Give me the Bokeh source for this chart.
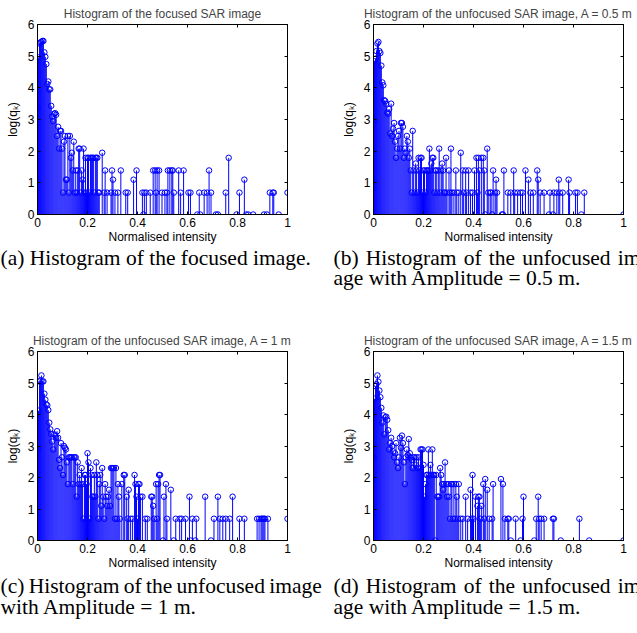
from bokeh.plotting import figure
from bokeh.layouts import column, row
from bokeh.models import (LinearAxis, Range1d, Label, FixedTicker, ColumnDataSource,
                          CustomLabelingPolicy)
from bokeh.embed import file_html
from bokeh.resources import INLINE

N_BINS = 255  # bins are indexed 0..255 over the normalised intensity 0..1

# ---- (a) focused image: bin index and log(q_k)
a_bin = [0, 1, 2, 3, 4, 5, 6, 7, 8, 9, 10, 11, 12, 13, 14, 15, 16, 17, 18, 19,
         20, 21, 22, 23, 24, 25, 26, 27, 28, 29, 30, 31, 32, 33, 34, 35, 36, 37, 38, 39,
         40, 41, 42, 43, 44, 45, 46, 47, 48, 49, 50, 51, 52, 53, 54, 55, 56, 57, 58, 59,
         60, 61, 62, 63, 66, 68, 69, 71, 75, 76, 77, 79, 82, 85, 90, 92, 98, 101, 107, 108,
         109, 111, 115, 118, 120, 121, 122, 124, 127, 130, 132, 133, 135, 137, 138, 139, 144, 146, 149, 154,
         156, 163, 165, 166, 170, 173, 175, 177, 182, 184, 192, 195, 203, 206, 211, 213, 215, 220, 231, 234,
         237, 240, 241, 246, 255]
a_logq = [3.37, 4.96, 5.40, 5.43, 5.45, 5.48, 5.48, 5.12, 4.98, 4.75, 4.12, 4.20, 3.95, 3.95, 3.43, 3.09, 2.95, 3.18, 3.20, 3.15,
          2.48, 2.77, 2.08, 2.64, 2.64, 2.08, 0.69, 2.30, 2.48, 1.10, 1.10, 2.48, 0.69, 2.48, 1.79, 1.95, 1.39, 2.30, 0.69, 1.39,
          0.69, 1.39, 2.08, 2.08, 0.69, 1.39, 1.10, 2.08, 0.69, 1.79, 0.69, 1.79, 1.79, 0.69, 1.79, 1.79, 1.79, 1.79, 0.69, 1.79,
          1.79, 1.79, 0.69, 0.69, 1.95, 0.69, 1.39, 0.69, 0.69, 1.39, 1.10, 0.69, 0.69, 1.39, 0.69, 0.69, 1.10, 1.39, 0.69, 0.00,
          0.69, 0.69, 0.69, 1.39, 1.39, 0.69, 1.39, 1.39, 0.69, 0.69, 0.69, 1.39, 1.39, 1.39, 1.39, 0.69, 1.39, 0.69, 1.39, 0.69,
          0.69, 0.00, 0.69, 0.00, 0.69, 0.69, 1.39, 0.69, 0.00, 0.00, 0.69, 1.79, 0.00, 0.69, 1.10, 0.00, 0.00, 0.00, 0.00, 0.00,
          0.69, 0.69, 0.69, 0.00, 0.69]

# ---- (b) unfocused image, A = 0.5 m
b_bin = [0, 1, 2, 3, 4, 5, 6, 7, 8, 9, 10, 11, 12, 13, 14, 15, 16, 17, 18, 19,
         20, 21, 22, 23, 24, 25, 26, 27, 28, 29, 30, 31, 32, 33, 34, 35, 36, 37, 38, 39,
         40, 41, 42, 43, 44, 45, 46, 47, 48, 49, 50, 51, 52, 53, 54, 55, 56, 57, 58, 59,
         60, 61, 62, 63, 64, 65, 66, 67, 68, 69, 70, 71, 72, 73, 74, 75, 77, 78, 79, 80,
         82, 84, 85, 87, 89, 91, 92, 94, 95, 97, 99, 101, 103, 105, 106, 107, 108, 110, 112, 113,
         114, 116, 117, 119, 120, 121, 122, 124, 125, 126, 131, 132, 133, 137, 140, 143, 144, 147, 150, 152,
         155, 158, 160, 163, 167, 168, 170, 174, 179, 180, 183, 184, 187, 189, 190, 193, 199, 200, 206, 208,
         212, 215, 255]
b_logq = [2.94, 4.84, 4.92, 5.16, 5.40, 5.45, 5.16, 5.10, 4.70, 4.17, 4.08, 3.61, 3.58, 3.50, 3.22, 3.18, 3.33, 2.56, 3.50, 2.48,
          2.71, 2.89, 2.30, 1.79, 2.08, 2.48, 2.64, 2.08, 2.89, 2.89, 2.77, 1.79, 2.08, 1.95, 2.48, 2.30, 1.79, 2.08, 1.39, 0.69,
          2.64, 1.39, 0.69, 1.61, 1.39, 0.69, 1.79, 1.39, 1.79, 1.79, 0.69, 1.39, 1.39, 0.69, 1.39, 1.39, 1.39, 2.08, 1.39, 1.61,
          1.79, 1.79, 0.69, 1.39, 1.39, 0.69, 1.39, 2.08, 0.69, 1.39, 1.61, 1.39, 0.69, 0.69, 1.79, 0.69, 1.39, 0.69, 2.08, 0.69,
          0.69, 1.39, 0.69, 0.69, 1.95, 1.39, 0.69, 1.39, 0.69, 1.39, 0.69, 0.69, 1.39, 1.79, 0.69, 1.79, 1.39, 1.79, 1.79, 1.39,
          0.00, 2.08, 0.69, 0.69, 0.69, 0.00, 1.39, 0.69, 1.10, 0.69, 0.00, 0.00, 1.39, 0.69, 0.69, 1.39, 0.69, 0.69, 0.69, 0.69,
          1.39, 1.10, 0.69, 0.69, 1.39, 1.10, 0.69, 0.69, 0.00, 0.69, 0.00, 0.69, 0.69, 1.10, 0.69, 0.69, 1.10, 0.69, 0.69, 0.69,
          0.00, 0.69, 0.00]

# ---- (c) unfocused image, A = 1 m
c_bin = [0, 1, 2, 3, 4, 5, 6, 7, 8, 9, 10, 11, 12, 13, 14, 15, 16, 17, 18, 19,
         20, 21, 22, 23, 24, 25, 26, 27, 28, 29, 30, 31, 32, 33, 34, 35, 36, 37, 38, 39,
         40, 41, 42, 43, 44, 45, 46, 47, 48, 49, 50, 51, 52, 53, 54, 55, 56, 57, 58, 59,
         60, 61, 62, 63, 64, 65, 66, 67, 68, 69, 70, 71, 72, 73, 74, 75, 76, 77, 78, 79,
         80, 81, 82, 83, 84, 86, 88, 89, 91, 92, 93, 95, 97, 99, 100, 101, 102, 103, 104, 105,
         107, 110, 112, 116, 117, 118, 119, 121, 122, 123, 124, 125, 128, 129, 131, 132, 136, 139, 141, 145,
         147, 151, 155, 156, 158, 161, 162, 171, 177, 180, 184, 186, 189, 192, 196, 199, 206, 211, 224, 226,
         228, 229, 230, 231, 232, 235, 255]
c_logq = [2.90, 4.12, 5.05, 5.08, 5.24, 5.05, 5.05, 4.66, 4.47, 4.32, 4.29, 4.14, 3.74, 3.53, 3.38, 3.14, 2.89, 3.37, 3.33, 3.26,
          3.47, 3.26, 2.56, 2.30, 3.09, 2.64, 2.08, 3.00, 2.94, 2.89, 2.48, 1.79, 2.64, 2.64, 2.64, 2.64, 1.79, 2.64, 2.64, 2.64,
          1.39, 2.48, 1.79, 2.08, 1.79, 2.30, 1.79, 0.69, 2.08, 2.08, 1.79, 2.77, 2.48, 0.69, 2.30, 2.08, 1.39, 1.39, 2.08, 1.39,
          2.48, 2.08, 0.69, 1.79, 2.08, 1.10, 2.30, 1.39, 0.69, 1.79, 1.39, 1.10, 1.39, 1.61, 1.10, 2.30, 2.30, 2.30, 2.30, 0.69,
          2.30, 0.69, 1.79, 1.39, 0.69, 1.79, 2.08, 2.08, 1.39, 0.69, 1.61, 0.69, 0.69, 2.08, 1.79, 1.39, 0.69, 1.79, 1.79, 1.39,
          1.39, 0.69, 0.69, 1.39, 1.39, 1.10, 0.69, 1.79, 0.69, 1.79, 2.08, 2.08, 0.00, 1.39, 1.79, 0.69, 1.61, 0.00, 0.69, 0.69,
          0.69, 0.69, 1.39, 0.00, 0.69, 0.00, 0.69, 1.39, 0.00, 0.69, 1.39, 0.69, 0.69, 0.69, 0.69, 1.39, 0.69, 0.69, 0.69, 0.69,
          0.69, 0.69, 0.69, 0.69, 0.69, 0.69, 0.69]

# ---- (d) unfocused image, A = 1.5 m
d_bin = [0, 1, 2, 3, 4, 5, 6, 7, 8, 9, 10, 11, 12, 13, 14, 15, 16, 17, 18, 19,
         20, 21, 22, 23, 24, 25, 26, 27, 28, 29, 30, 31, 32, 33, 34, 35, 36, 37, 38, 39,
         40, 41, 42, 43, 44, 45, 46, 47, 48, 49, 50, 51, 52, 53, 54, 55, 56, 57, 58, 59,
         60, 61, 62, 63, 64, 65, 66, 67, 68, 69, 70, 71, 72, 73, 74, 75, 76, 77, 78, 79,
         80, 81, 82, 83, 84, 85, 86, 87, 89, 91, 94, 96, 99, 100, 101, 102, 104, 106, 107, 108,
         109, 110, 112, 113, 114, 116, 118, 121, 122, 130, 132, 134, 137, 138, 140, 145, 150, 152, 153, 164,
         166, 168, 169, 171, 174, 183, 184, 191, 210, 220, 255]
d_logq = [2.64, 4.50, 4.90, 4.96, 5.24, 5.04, 4.76, 4.55, 4.21, 3.74, 3.97, 3.37, 3.91, 3.93, 3.83, 3.50, 2.89, 3.09, 3.26, 3.00,
          2.83, 2.64, 2.77, 3.09, 2.48, 2.30, 2.64, 3.26, 2.94, 3.33, 3.09, 2.48, 1.79, 2.64, 2.89, 2.71, 3.22, 2.77, 2.64, 2.56,
          2.30, 2.64, 2.64, 2.40, 2.64, 2.30, 2.64, 2.30, 2.89, 2.89, 2.89, 2.40, 1.39, 1.79, 2.08, 2.08, 2.89, 2.08, 2.40, 2.08,
          2.89, 2.08, 2.08, 0.00, 2.08, 1.39, 1.39, 1.39, 2.30, 2.08, 1.79, 1.61, 1.79, 2.48, 1.79, 1.39, 1.79, 1.39, 0.69, 1.79,
          1.79, 0.69, 1.79, 0.69, 1.79, 1.39, 0.69, 1.79, 0.69, 0.69, 1.39, 0.69, 1.61, 0.69, 2.08, 0.69, 1.39, 1.10, 1.39, 1.39,
          0.69, 1.10, 1.79, 0.69, 1.95, 1.61, 0.69, 0.69, 1.79, 1.95, 1.79, 0.69, 0.69, 0.69, 0.00, 0.69, 0.00, 0.69, 1.39, 0.00,
          0.69, 1.39, 0.69, 0.69, 0.69, 0.69, 0.69, 0.00, 0.69, 0.00, 0.00]

titles = ["Histogram of the focused SAR image",
          "Histogram of the unfocused SAR image, A = 0.5 m",
          "Histogram of the unfocused SAR image, A = 1 m",
          "Histogram of the unfocused SAR image, A = 1.5 m"]
x_ticks = [0, 0.2, 0.4, 0.6, 0.8, 1]
x_tick_labels = ["0", "0.2", "0.4", "0.6", "0.8", "1"]
y_ticks = [0, 1, 2, 3, 4, 5, 6]
x_label = "Normalised intensity"
y_label = "log(q\u2096)"

J = "\u2004"   # slightly widened inter-word space (justified caption lines)
T = "\u2009"   # slightly narrowed inter-word space
captions_top = ["(a) Histogram of the focused image.",
                J.join(["(b)", "Histogram", "of", "the", "unfocused", "im-"]),
                "age with Amplitude = 0.5 m."]
captions_bottom = [T.join(["(c)", "Histogram", "of", "the", "unfocused", "image"]),
                   "with Amplitude = 1 m.",
                   J.join(["(d)", "Histogram", "of", "the", "unfocused", "im-"]),
                   "age with Amplitude = 1.5 m."]

SANS = "Liberation Sans"
SERIF = "Liberation Serif"
BLUE = "#0000ff"
CAP_SIZE = "21.5px"


def style_axis(ax, ticks):
    ax.ticker = FixedTicker(ticks=ticks)
    ax.major_tick_in = 3
    ax.major_tick_out = 0
    ax.minor_tick_in = 0
    ax.minor_tick_out = 0
    ax.axis_line_color = "black"
    ax.major_tick_line_color = "black"
    ax.major_label_text_font = SANS
    ax.major_label_text_font_size = "12px"
    ax.major_label_text_color = "black"
    ax.major_label_text_line_height = 1.0
    ax.axis_label_text_font = SANS
    ax.axis_label_text_font_size = "12px"
    ax.axis_label_text_font_style = "normal"
    ax.axis_label_text_color = "black"
    ax.axis_label_text_line_height = 1.0


def blank_axis(ticks):
    ax = LinearAxis()
    style_axis(ax, ticks)
    ax.major_label_text_font_size = "0px"
    ax.major_label_standoff = 0
    ax.major_label_policy = CustomLabelingPolicy(
        code="for (const i of indices) { indices.unset(i) }\nreturn indices")
    return ax


def panel(title, bins, logq, width, left, right, top, height, frame_h=192):
    p = figure(width=width, height=height, output_backend="svg", toolbar_location=None,
               x_range=Range1d(0, 1), y_range=Range1d(0, 6),
               min_border_left=left, min_border_right=right,
               min_border_top=top, min_border_bottom=height - top - frame_h,
               background_fill_color="white", border_fill_color="white")
    p.title.text = title
    p.title.text_font = SANS
    p.title.text_font_size = "12px"
    p.title.text_font_style = "normal"
    p.title.align = "center"
    p.title.standoff = 7
    p.outline_line_color = "black"
    p.outline_line_width = 1
    p.xgrid.visible = False
    p.ygrid.visible = False

    src = ColumnDataSource(dict(x=[b / N_BINS for b in bins], y=logq))
    p.segment(x0="x", y0=0, x1="x", y1="y", source=src, line_color=BLUE, line_width=1)
    p.scatter("x", "y", source=src, marker="circle", size=5.5, fill_color=None,
              line_color=BLUE, line_width=1)

    xa = p.below[0]
    style_axis(xa, x_ticks)
    xa.major_label_overrides = {t: s for t, s in zip(x_ticks, x_tick_labels)}
    xa.axis_label = x_label
    xa.major_label_standoff = 3
    xa.axis_label_standoff = 0

    ya = p.left[0]
    style_axis(ya, y_ticks)
    ya.axis_label = y_label
    ya.major_label_standoff = 3
    ya.axis_label_standoff = 5

    p.add_layout(blank_axis(x_ticks), "above")
    p.add_layout(blank_axis(y_ticks), "right")
    return p


def strip(height):
    s = figure(width=637, height=height, output_backend="svg", toolbar_location=None,
               x_range=Range1d(0, 1), y_range=Range1d(0, 1),
               x_axis_type=None, y_axis_type=None, min_border=0,
               outline_line_color=None, background_fill_color="white",
               border_fill_color="white")
    s.xgrid.visible = False
    s.ygrid.visible = False
    return s


def caption(s, x, y, text):
    s.add_layout(Label(x=x, y=y, x_units="screen", y_units="screen", text=text,
                       text_font=SERIF, text_font_size=CAP_SIZE, text_color="black",
                       text_baseline="alphabetic", text_align="left"))


pa = panel(titles[0], a_bin, a_logq, 330, 37, 43, 24, 246)
pb = panel(titles[1], b_bin, b_logq, 307, 43, 14, 24, 246)
pc = panel(titles[2], c_bin, c_logq, 330, 37, 43, 23, 244, 191)
pd = panel(titles[3], d_bin, d_logq, 307, 43, 14, 23, 244, 191)

s1 = strip(82)   # page rows 246 .. 328
s2 = strip(61)   # page rows 572 .. 633

caption(s1, 0, 71, captions_top[0])
caption(s1, 333, 71, captions_top[1])
caption(s1, 333, 51, captions_top[2])

caption(s2, 0, 48, captions_bottom[0])
caption(s2, 0, 27, captions_bottom[1])
caption(s2, 333, 48, captions_bottom[2])
caption(s2, 333, 27, captions_bottom[3])

layout = column(row(pa, pb), s1, row(pc, pd), s2)
open("out.html", "w").write(file_html(layout, INLINE))
